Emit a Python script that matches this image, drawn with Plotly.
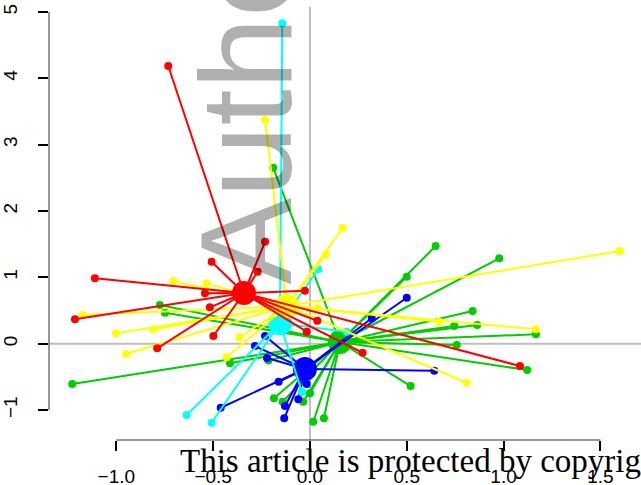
import plotly.graph_objects as go

# Site scores for each group (axis 1, axis 2)
red_x = [-0.732, -0.232, -0.508, -0.270, -0.026, -1.111, -1.214, -0.789, -0.499,
         -0.517, -0.542, 1.085, 0.272, 0.038, -0.017]
red_y = [4.185, 1.537, 1.236, 1.085, 0.799, 0.986, 0.368, -0.069, 0.116,
         0.549, 0.760, -0.336, -0.136, 0.347, 0.181]

yellow_x = [-0.232, 0.169, 1.601, 0.083, 1.167, 0.668, 0.809, -0.534, -0.706,
            -1.174, -1.002, -0.809, -0.950, -0.365, -0.430, 0.038]
yellow_y = [3.373, 1.748, 1.397, 1.347, 0.217, 0.332, -0.588, 0.910, 0.945,
            0.433, 0.157, 0.217, -0.155, 0.096, -0.205, 0.534]

cyan_x = [-0.143, -0.637, -0.508, 0.043, 0.190, -0.041]
cyan_y = [4.829, -1.075, -1.191, 1.121, 0.181, -0.728]

blue_x = [0.500, 0.642, 0.319, -0.232, -0.284, -0.222, -0.162, -0.461, -0.133,
          -0.129, -0.060, -0.017]
blue_y = [0.693, -0.407, 0.383, 0.116, -0.035, -0.215, -0.573, -0.965, -1.124,
          -0.939, -0.838, -0.607]

green_x = [-0.190, 0.649, 0.978, 0.500, 0.840, 0.864, 0.745, 1.167, 0.758, 1.122,
           0.520, 0.072, -0.775, -0.749, -1.228, -0.413, -0.215, -0.186, -0.141,
           -0.035, 0.000, 0.017]
green_y = [2.653, 1.472, 1.287, 1.010, 0.493, 0.282, 0.267, 0.142, -0.020, -0.396,
           -0.638, -1.124, 0.583, 0.467, -0.607, -0.295, -0.253, -0.823, -0.874,
           -0.874, -0.748, -1.176]

# Group centroids
group_names = ["green", "blue", "cyan", "yellow", "red"]
centroid_x = [0.155, -0.026, -0.155, -0.119, -0.341]
centroid_y = [0.026, -0.381, 0.309, 0.568, 0.764]
group_colors = ["#00CD00", "#0000FF", "#00FFFF", "#FFFF00", "#FF0000"]

x_ticks = [-1.0, -0.5, 0.0, 0.5, 1.0, 1.5]
x_ticktext = ["\u22121.0", "\u22120.5", "0.0", "0.5", "1.0", "1.5"]
y_ticks = [-1, 0, 1, 2, 3, 4, 5]
y_ticktext = ["\u22121", "0", "1", "2", "3", "4", "5"]

points = {
    "green": (green_x, green_y),
    "blue": (blue_x, blue_y),
    "cyan": (cyan_x, cyan_y),
    "yellow": (yellow_x, yellow_y),
    "red": (red_x, red_y),
}

fig = go.Figure()

for name, cx, cy, col in zip(group_names, centroid_x, centroid_y, group_colors):
    px, py = points[name]
    # spider segments from the centroid to every site
    sx, sy = [], []
    for a, b in zip(px, py):
        sx += [cx, a, None]
        sy += [cy, b, None]
    fig.add_trace(go.Scatter(x=sx, y=sy, mode="lines",
                             line=dict(color=col, width=2), hoverinfo="skip"))
    fig.add_trace(go.Scatter(x=px, y=py, mode="markers",
                             marker=dict(color=col, size=8, line=dict(width=0))))
    fig.add_trace(go.Scatter(x=[cx], y=[cy], mode="markers",
                             marker=dict(color=col, size=24, line=dict(width=0))))

tick_font = dict(family="Liberation Sans, Arial, sans-serif", size=19, color="black")

fig.update_layout(
    width=641, height=485,
    margin=dict(l=49, r=0, t=7, b=45),
    paper_bgcolor="white", plot_bgcolor="white",
    showlegend=False,
    xaxis=dict(range=[-1.348, 1.710], showgrid=False, zeroline=False, showline=False,
               automargin=False,
               tickmode="array", tickvals=x_ticks, ticktext=x_ticktext,
               ticks="outside", ticklen=10, tickwidth=1.5, tickcolor="black",
               tickfont=tick_font, ticklabelstandoff=9),
    yaxis=dict(range=[-1.451, 5.075], showgrid=False, zeroline=False, showline=False,
               automargin=False,
               tickmode="array", tickvals=y_ticks, ticktext=y_ticktext,
               ticks="outside", ticklen=10, tickwidth=1.5, tickcolor="black",
               tickangle=-90, tickfont=tick_font, ticklabelstandoff=13),
)

# reference lines through the origin
fig.add_shape(type="line", xref="x", yref="paper", x0=0, x1=0, y0=0, y1=1,
              line=dict(color="#BEBEBE", width=2), layer="below")
fig.add_shape(type="line", xref="paper", yref="y", x0=0, x1=1, y0=0, y1=0,
              line=dict(color="#BEBEBE", width=2), layer="below")

# axis lines spanning first to last tick
fig.add_shape(type="line", xref="x", yref="paper", x0=x_ticks[0], x1=x_ticks[-1],
              y0=0, y1=0, line=dict(color="#333333", width=1))
fig.add_shape(type="line", xref="paper", yref="y", x0=0, x1=0,
              y0=y_ticks[0], y1=y_ticks[-1], line=dict(color="#333333", width=1))

# vertical watermark
fig.add_annotation(text="Author Manuscript", xref="paper", yref="paper",
                   x=0.3327, y=0.3555, xanchor="center", yanchor="bottom",
                   textangle=-90, showarrow=False,
                   font=dict(family="Liberation Sans, Arial, sans-serif", size=130,
                             color="rgba(0,0,0,0.31)"))

# footer notice
fig.add_annotation(text="This article is protected by copyright. All rights reserved",
                   xref="paper", yref="paper", x=0.2180, y=-0.0485,
                   xanchor="left", yanchor="middle", showarrow=False,
                   font=dict(family="Liberation Serif, Times New Roman, serif", size=33,
                             color="black"))

fig.write_html("out.html")
